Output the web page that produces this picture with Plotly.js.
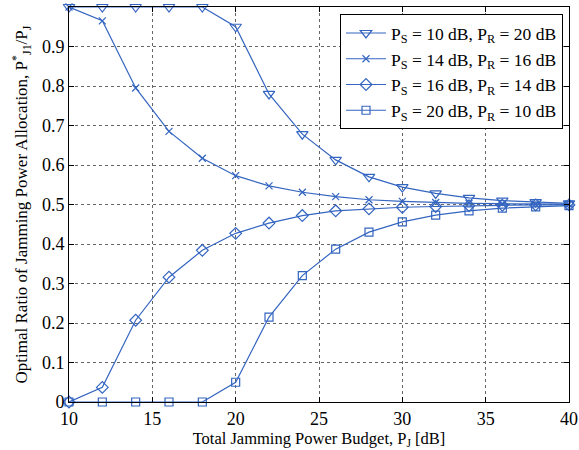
<!DOCTYPE html>
<html>
<head>
<meta charset="utf-8">
<script src="https://cdn.plot.ly/plotly-3.0.1.min.js"></script>
<style>html,body{margin:0;padding:0;background:#fff;}#chart{width:579px;height:450px;}</style>
</head>
<body>
<div id="chart"></div>
<script>
const pj = [10, 12, 14, 16, 18, 20, 22, 24, 26, 28, 30, 32, 34, 36, 38, 40];
const seriesNames = [
  "P<sub>S</sub> = 10 dB, P<sub>R</sub> = 20 dB",
  "P<sub>S</sub> = 14 dB, P<sub>R</sub> = 16 dB",
  "P<sub>S</sub> = 16 dB, P<sub>R</sub> = 14 dB",
  "P<sub>S</sub> = 20 dB, P<sub>R</sub> = 10 dB"
];
const ratioS10R20 = [1, 1, 1, 1, 1, 0.95, 0.78, 0.678, 0.613, 0.570, 0.544, 0.528, 0.517, 0.510, 0.506, 0.503];
const ratioS14R16 = [1, 0.965, 0.795, 0.685, 0.617, 0.573, 0.547, 0.531, 0.520, 0.512, 0.508, 0.505, 0.503, 0.502, 0.501, 0.501];
const ratioS16R14 = [0, 0.037, 0.207, 0.316, 0.384, 0.427, 0.453, 0.472, 0.484, 0.489, 0.493, 0.495, 0.497, 0.498, 0.499, 0.499];
const ratioS20R10 = [0, 0, 0, 0, 0, 0.05, 0.215, 0.32, 0.387, 0.43, 0.456, 0.473, 0.484, 0.491, 0.494, 0.497];
const symbols = ["triangle-down-open", "x-thin-open", "diamond-open", "square-open"];
const sizes = [10, 7, 9, 8];

const color = "#3465c0";
const allY = [ratioS10R20, ratioS14R16, ratioS16R14, ratioS20R10];
const traces = allY.map((y, i) => ({
  x: pj, y: y, type: "scatter", mode: "lines+markers", name: seriesNames[i],
  line: {color: color, width: 1.2},
  marker: {symbol: symbols[i], size: sizes[i], color: color, line: {color: color, width: 1.2}},
  cliponaxis: false
}));

const fam = "'Liberation Serif', 'Times New Roman', Times, serif";
const font = {family: fam, size: 18, color: "#000"};
const axisCommon = {
  showline: true, linecolor: "#000", linewidth: 1, mirror: "ticks",
  ticks: "inside", ticklen: 5, tickcolor: "#000",
  showgrid: true, gridcolor: "#666", griddash: "dot", gridwidth: 1,
  zeroline: false, tickfont: font
};
const layout = {
  width: 579, height: 450,
  margin: {l: 69, r: 10, t: 7, b: 48},
  paper_bgcolor: "#fff", plot_bgcolor: "#fff",
  font: font,
  showlegend: true,
  legend: {
    x: 0.988, y: 0.982, xanchor: "right", yanchor: "top",
    bgcolor: "#fff", bordercolor: "#000", borderwidth: 1,
    font: {family: fam, size: 17.5, color: "#000"},
    tracegroupgap: 0, itemwidth: 40
  },
  xaxis: Object.assign({}, axisCommon, {
    range: [10, 40], tickvals: [10, 15, 20, 25, 30, 35, 40],
    title: {text: "Total Jamming Power Budget, P<sub>J</sub> [dB]", font: {family: fam, size: 16.5, color: "#000"}, standoff: 3}
  }),
  yaxis: Object.assign({}, axisCommon, {
    range: [0, 1], tickvals: [0, 0.1, 0.2, 0.3, 0.4, 0.5, 0.6, 0.7, 0.8, 0.9, 1],
    ticktext: ["0", "0.1", "0.2", "0.3", "0.4", "0.5", "0.6", "0.7", "0.8", "0.9", "1"],
    title: {text: "Optimal Ratio of Jamming Power Allocation, P<sup>*</sup><sub>J1</sub>/P<sub>J</sub>", font: {family: fam, size: 17, color: "#000"}, standoff: 9}
  })
};
Plotly.newPlot("chart", traces, layout, {displayModeBar: false, staticPlot: true});
</script>
</body>
</html>
